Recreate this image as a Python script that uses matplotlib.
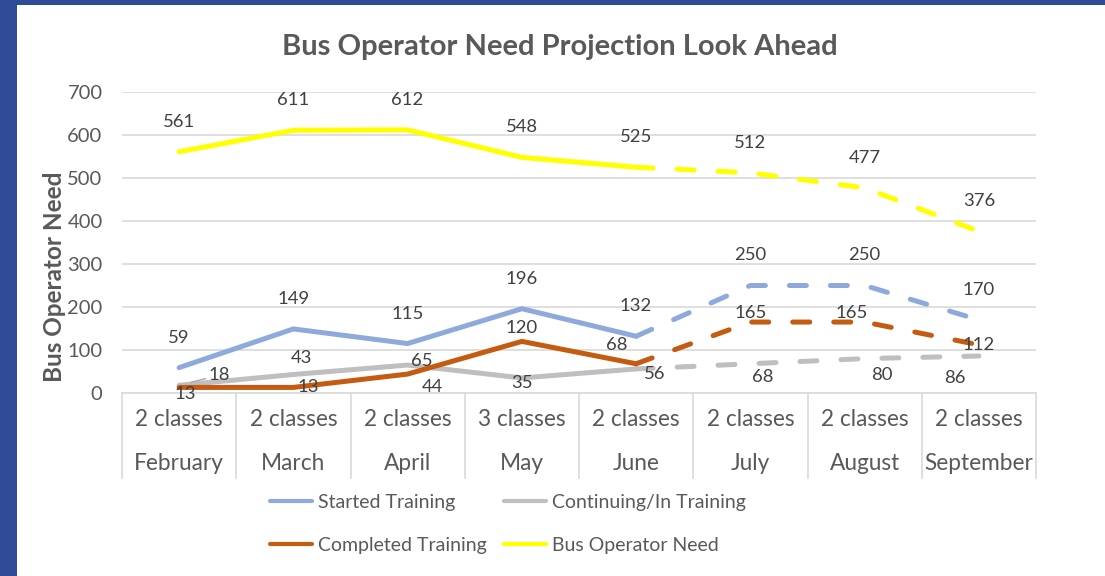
import matplotlib
matplotlib.use("Agg")
import matplotlib.pyplot as plt
from matplotlib.lines import Line2D

plt.rcParams['font.family'] = ['Lato', 'DejaVu Sans']

# ---- data ----
months = ["February", "March", "April", "May", "June", "July", "August", "September"]
classes = ["2 classes", "2 classes", "2 classes", "3 classes", "2 classes", "2 classes", "2 classes", "2 classes"]
started = [59, 149, 115, 196, 132, 250, 250, 170]
continuing = [18, 43, 65, 35, 56, 68, 80, 86]
completed = [13, 13, 44, 120, 68, 165, 165, 112]
need = [561, 611, 612, 548, 525, 512, 477, 376]
series_names = ["Started Training", "Continuing/In Training", "Completed Training", "Bus Operator Need"]
yticks = [0, 100, 200, 300, 400, 500, 600, 700]
split = 4  # projection (dashed) starts at June

# ---- styles ----
colors = ["#8EA9DB", "#BFBFBF", "#C55A11", "#FFFF00"]
border_blue = "#2F4A96"
text_c = "#404040"
axis_c = "#595959"
grid_c = "#D9D9D9"

# label offsets in pixels (dx, dy), dy positive = up
off_started = [(0, 30)] * 8
off_need = [(0, 30)] * 8
off_completed = [(6, -7), (15, 0), (25, -13), (0, 13), (-19, 19), (0, 9), (-13, 9), (0, 0)]
off_continuing = [(40, 10), (8, 17), (14, 4), (0, -5), (19, -5), (12, -13), (17, -16), (-24, -22)]

W, H = 1105, 576
fig = plt.figure(figsize=(W / 100, H / 100), dpi=100)
fig.patch.set_facecolor("white")

# blue frame (left and top)
fig.patches.append(plt.Rectangle((0, 0), 17 / W, 1, transform=fig.transFigure,
                                 facecolor=border_blue, edgecolor="none", zorder=0))
fig.patches.append(plt.Rectangle((0, 1 - 5 / H), 1, 5 / H, transform=fig.transFigure,
                                 facecolor=border_blue, edgecolor="none", zorder=0))

left, right, top, bottom = 122, 1036, 92, 393
ax = fig.add_axes([left / W, 1 - bottom / H, (right - left) / W, (bottom - top) / H])
ax.set_xlim(-0.5, len(months) - 0.5)
ax.set_ylim(0, 700)
ax.set_yticks(yticks)
ax.set_yticklabels([str(v) for v in yticks])
ax.tick_params(axis='y', length=0, pad=14, labelsize=14.5, labelcolor=axis_c)
ax.set_xticks([])
ax.grid(axis='y', color=grid_c, linewidth=1.2, zorder=0)
ax.set_axisbelow(True)
for s in ["top", "right", "left"]:
    ax.spines[s].set_visible(False)
ax.spines["bottom"].set_color(grid_c)
ax.spines["bottom"].set_linewidth(1.2)

x = list(range(len(months)))
all_series = [started, continuing, completed, need]
lw = 3.6
handles = []
for vals, col, name in zip(all_series, colors, series_names):
    ax.plot(x[:split + 1], vals[:split + 1], color=col, lw=lw,
            solid_capstyle='round', solid_joinstyle='round', zorder=3)
    ax.plot(x[split:], vals[split:], color=col, lw=lw, linestyle=(0, (3.4, 4.8)),
            dash_capstyle='round', solid_joinstyle='round', zorder=3)
    handles.append(Line2D([0], [0], color=col, lw=3, solid_capstyle='round'))

px = 0.72  # points per pixel at 100 dpi


def label(vals, offs, arrow_first=False):
    for i, (v, (dx, dy)) in enumerate(zip(vals, offs)):
        kw = {}
        if arrow_first and i == 0:
            kw["arrowprops"] = dict(arrowstyle='-', color="#A6A6A6", lw=1,
                                    shrinkA=0, shrinkB=9)
        ax.annotate(str(v), (i, v), xytext=(dx * px, dy * px), textcoords='offset points',
                    ha='center', va='center', fontsize=13.3, color=text_c, zorder=5, **kw)


label(started, off_started)
label(continuing, off_continuing, arrow_first=True)
label(completed, off_completed)
label(need, off_need)

# multi-level category axis
tr = ax.get_xaxis_transform()
h = bottom - top
for i in range(len(months) + 1):
    ax.plot([i - 0.5, i - 0.5], [0, -(478 - bottom) / h], transform=tr, color=grid_c,
            lw=1.2, clip_on=False, zorder=1)
for i, (c, m) in enumerate(zip(classes, months)):
    ax.text(i, -(420 - bottom) / h, c, transform=tr, ha='center', va='center',
            fontsize=16.3, color=axis_c)
    ax.text(i, -(463 - bottom) / h, m, transform=tr, ha='center', va='center',
            fontsize=16.3, color=axis_c)

# title and y label
fig.text(560 / W, 1 - 47 / H, "Bus Operator Need Projection Look Ahead", ha='center',
         va='center', fontsize=21, fontweight='bold', color=axis_c)
fig.text(55 / W, 1 - 277 / H, "Bus Operator Need", rotation=90, ha='center', va='center',
         fontsize=17.5, fontweight='bold', color=axis_c)

# legend (column-major order so rows read Started/Continuing, Completed/Need)
order = [0, 2, 1, 3]
fig.legend([handles[k] for k in order], [series_names[k] for k in order], ncol=2,
           loc='upper left', bbox_to_anchor=(270 / W, 1 - 494 / H), frameon=False,
           fontsize=14, labelcolor=axis_c, handlelength=2.18, handletextpad=0.28,
           columnspacing=0.9, labelspacing=1.33, borderpad=0, borderaxespad=0)

fig.savefig("out.png", dpi=100, facecolor="white")
